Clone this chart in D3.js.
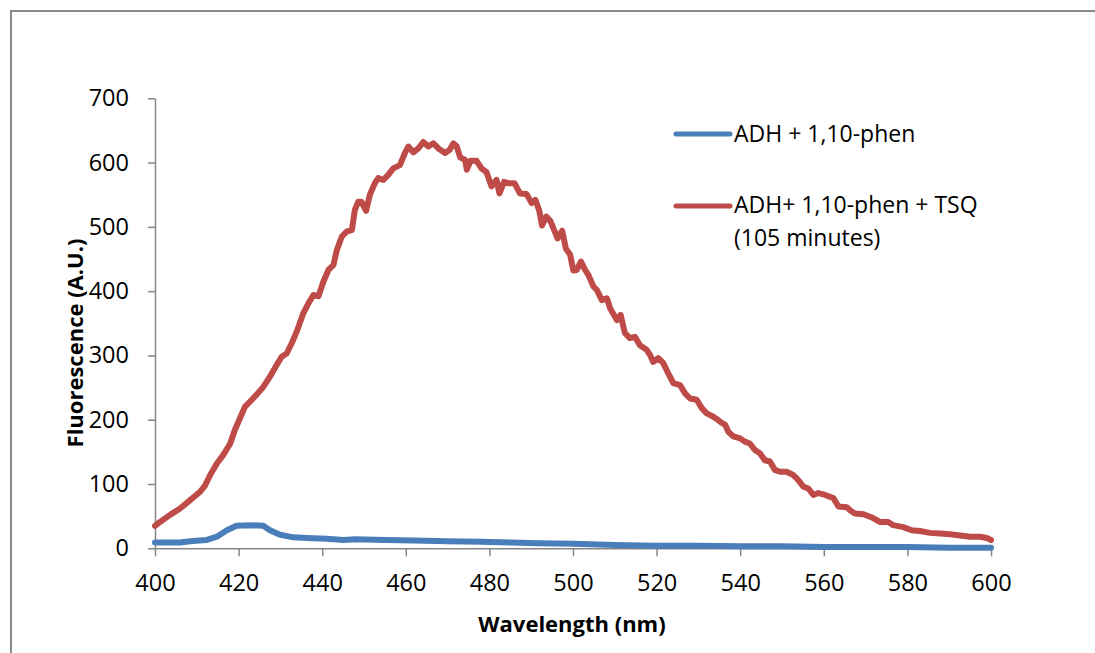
<!DOCTYPE html>
<html>
<head>
<meta charset="utf-8">
<script src="https://cdn.jsdelivr.net/npm/d3@7"></script>
<style>
  html, body { margin: 0; padding: 0; background: #fff; }
  svg { display: block; }
  text { font-family: "Open Sans", "Noto Sans", sans-serif; fill: #000; }
</style>
</head>
<body>
<svg id="chart" width="1095" height="653"></svg>
<script>
// Emission spectra (wavelength in nm, fluorescence in A.U.)
const blueWavelengths = [400, 403.6, 406, 408.4, 410.5, 412.4, 414.8, 417.2, 419.5, 422.7, 425.9, 427.5, 429.9, 433.1, 436.3, 441.1, 445.1, 448, 455, 462, 470, 478, 485, 492, 500, 510, 520, 530, 540, 550, 560, 570, 580, 590, 600];
const blueValues = [9, 9, 9, 11, 12, 13, 18, 28, 35, 36, 35, 28, 21, 17, 16, 15, 13, 14, 13, 12, 11, 10, 9, 8, 7, 5, 4, 4, 3, 3, 2, 2, 2, 1, 1];

const redWavelengths = [400, 401.2, 403.6, 406, 408.4, 410.8, 412, 413.2, 414.8, 416.3, 418, 419.1, 420.3, 421.5, 422.7, 424.3, 425.9, 427.5, 429.1, 430.3, 431.5, 432.7, 433.9, 435.5, 436.7, 437.9, 439.1, 440.3, 441.5, 442.7, 443.5, 444.7, 445.9, 447.1, 447.8, 448.6, 449.4, 450.5, 451.4, 452.6, 453.4, 454.6, 455.8, 457, 458.6, 459.8, 460.6, 461.8, 463, 464.2, 465.4, 466.6, 467.8, 469.4, 470.5, 471.4, 472.2, 473, 474.2, 474.6, 475.5, 476.9, 478.1, 479.3, 480.5, 481.7, 482.4, 483.5, 484.5, 486, 487.3, 488.9, 490.1, 491, 491.9, 492.6, 493.6, 494.6, 495.5, 496.3, 497.4, 498.3, 499.3, 500.1, 500.9, 501.9, 502.9, 503.7, 504.9, 505.7, 506.9, 508.1, 508.9, 510.5, 511.4, 512.4, 513.6, 514.8, 516, 517.6, 518.4, 519.2, 520.4, 521.6, 522.8, 524, 525.6, 526.8, 528, 529.6, 530.8, 532, 533.2, 534.4, 535.2, 536.4, 537.2, 538.4, 540, 541.1, 542.3, 543.5, 544.7, 545.9, 547.1, 548.3, 549.5, 551.1, 552.7, 553.9, 555.1, 556.3, 557.5, 558.7, 560.3, 562.3, 563.5, 565.5, 566.5, 567.5, 569.5, 571.8, 573.4, 575.4, 576.6, 579, 581, 583, 585.4, 587.8, 590.2, 592.6, 595, 597.4, 599, 600];
const redValues = [35, 41, 52, 62, 75, 88, 98, 114, 132, 145, 163, 184, 202, 220, 228, 239, 251, 267, 285, 298, 303, 319, 337, 366, 381, 394, 392, 415, 433, 441, 464, 485, 493, 495, 526, 539, 539, 525, 550, 568, 576, 573, 581, 591, 596, 615, 625, 616, 622, 632, 625, 630, 622, 615, 620, 630, 625, 608, 604, 589, 603, 603, 591, 585, 563, 573, 552, 570, 568, 568, 552, 551, 537, 542, 526, 502, 516, 509, 495, 482, 494, 466, 457, 432, 433, 446, 433, 425, 407, 402, 386, 389, 373, 355, 363, 335, 327, 329, 316, 309, 301, 290, 296, 288, 272, 257, 254, 241, 233, 231, 218, 210, 206, 201, 197, 192, 181, 174, 171, 166, 163, 153, 148, 137, 135, 122, 119, 119, 114, 106, 96, 93, 83, 86, 83, 78, 65, 64, 58, 54, 53, 47, 41, 41, 36, 33, 28, 27, 24, 23, 22, 20, 18, 18, 16, 13];

const xTicks = [400, 420, 440, 460, 480, 500, 520, 540, 560, 580, 600];
const yTicks = [0, 100, 200, 300, 400, 500, 600, 700];

const seriesNames = ["ADH + 1,10-phen", "ADH+ 1,10-phen + TSQ", "(105 minutes)"];
const seriesColors = ["#4a7ebb", "#be4b48"];
const axisColor = "#868686";

const svg = d3.select("#chart");

// outer chart frame (runs off the right and bottom edges)
svg.append("rect")
  .attr("x", 11).attr("y", 11)
  .attr("width", 1200).attr("height", 800)
  .attr("fill", "none")
  .attr("stroke", "#8a8a8a")
  .attr("stroke-width", 2);

const x = d3.scaleLinear().domain([400, 600]).range([155, 991]);
const y = d3.scaleLinear().domain([0, 700]).range([548.3, 98.3]);

// y axis
const yAxis = svg.append("g")
  .attr("transform", `translate(${x(400)},0)`)
  .call(d3.axisLeft(y).tickValues(yTicks).tickSize(7).tickPadding(19).tickSizeOuter(0));
yAxis.select(".domain").attr("stroke", axisColor).attr("stroke-width", 1.5);
yAxis.selectAll(".tick line").attr("stroke", axisColor).attr("stroke-width", 1.5);
yAxis.selectAll(".tick text")
  .attr("font-family", "Open Sans, sans-serif")
  .attr("font-size", 23.5)
  .attr("fill", "#000");

// x axis
const xAxis = svg.append("g")
  .attr("transform", `translate(0,${y(0)})`)
  .call(d3.axisBottom(x).tickValues(xTicks).tickSize(8).tickPadding(18).tickSizeOuter(0));
xAxis.select(".domain").attr("stroke", axisColor).attr("stroke-width", 1.5);
xAxis.selectAll(".tick line").attr("stroke", axisColor).attr("stroke-width", 1.5);
xAxis.selectAll(".tick text")
  .attr("font-family", "Open Sans, sans-serif")
  .attr("font-size", 23.5)
  .attr("fill", "#000");

// axis titles
svg.append("text")
  .attr("x", 572).attr("y", 632)
  .attr("text-anchor", "middle")
  .attr("font-size", 22)
  .attr("font-weight", "bold")
  .text("Wavelength (nm)");

svg.append("text")
  .attr("transform", "translate(83,343) rotate(-90)")
  .attr("text-anchor", "middle")
  .attr("font-size", 22)
  .attr("font-weight", "bold")
  .text("Fluorescence (A.U.)");

// spectra
const line = d3.line()
  .x(d => x(d[0]))
  .y(d => y(d[1]));

const blueData = blueWavelengths.map((w, i) => [w, blueValues[i]]);
const redData = redWavelengths.map((w, i) => [w, redValues[i]]);

svg.append("path")
  .datum(blueData)
  .attr("d", line)
  .attr("fill", "none")
  .attr("stroke", seriesColors[0])
  .attr("stroke-width", 6)
  .attr("stroke-linejoin", "round")
  .attr("stroke-linecap", "round");

svg.append("path")
  .datum(redData)
  .attr("d", line)
  .attr("fill", "none")
  .attr("stroke", seriesColors[1])
  .attr("stroke-width", 6)
  .attr("stroke-linejoin", "round")
  .attr("stroke-linecap", "round");

// legend
const legend = svg.append("g");
legend.append("line")
  .attr("x1", 676).attr("x2", 730).attr("y1", 134).attr("y2", 134)
  .attr("stroke", seriesColors[0]).attr("stroke-width", 5).attr("stroke-linecap", "round");
legend.append("text")
  .attr("x", 734).attr("y", 142)
  .attr("font-size", 23)
  .text(seriesNames[0]);

legend.append("line")
  .attr("x1", 676).attr("x2", 730).attr("y1", 206).attr("y2", 206)
  .attr("stroke", seriesColors[1]).attr("stroke-width", 5).attr("stroke-linecap", "round");
legend.append("text")
  .attr("x", 734).attr("y", 213)
  .attr("font-size", 23)
  .text(seriesNames[1]);
legend.append("text")
  .attr("x", 734).attr("y", 246)
  .attr("font-size", 23)
  .text(seriesNames[2]);
</script>
</body>
</html>
